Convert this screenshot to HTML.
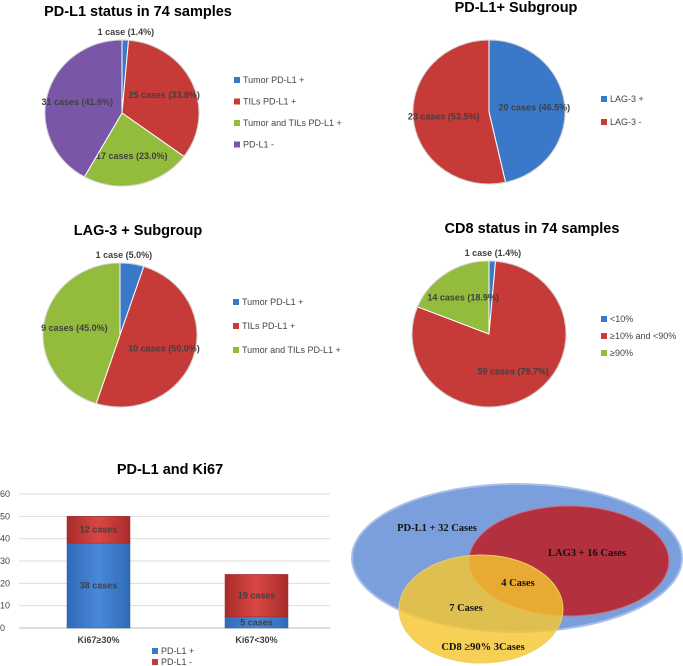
<!DOCTYPE html>
<html><head><meta charset="utf-8"><style>
html,body{margin:0;padding:0;background:#fff;}
svg{display:block;font-family:"Liberation Sans",sans-serif;}
.t{font-size:14.5px;font-weight:bold;fill:#000;text-anchor:middle;}
.l{font-size:9px;font-weight:bold;fill:#404040;text-anchor:middle;}
.lg{font-size:9px;fill:#444;}
.ax{font-size:9px;fill:#444;}
.v{font-family:"Liberation Serif",serif;font-weight:bold;font-size:10.5px;fill:#111;text-anchor:middle;}
</style></head><body>
<svg id="s" width="683" height="666" viewBox="0 0 683 666">
<defs>
<linearGradient id="gb" x1="0" x2="1"><stop offset="0" stop-color="#2f6bb8"/><stop offset="0.5" stop-color="#4a88d8"/><stop offset="1" stop-color="#2f6bb8"/></linearGradient>
<linearGradient id="gr" x1="0" x2="1"><stop offset="0" stop-color="#a82c2a"/><stop offset="0.5" stop-color="#d94744"/><stop offset="1" stop-color="#a82c2a"/></linearGradient>
</defs>
</svg>
<script>
const pie1Labels=["Tumor PD-L1 +","TILs PD-L1 +","Tumor and TILs PD-L1 +","PD-L1 -"];
const pie1Values=[1,25,17,31];
const pie1Text=["1 case (1.4%)","25 cases (33.8%)","17 cases (23.0%)","31 cases (41.9%)"];
const pie2Labels=["LAG-3 +","LAG-3 -"];
const pie2Values=[20,23];
const pie2Text=["20 cases (46.5%)","23 cases (53.5%)"];
const pie3Labels=["Tumor PD-L1 +","TILs PD-L1 +","Tumor and TILs PD-L1 +"];
const pie3Values=[1,10,9];
const pie3Text=["1 case (5.0%)","10 cases (50.0%)","9 cases (45.0%)"];
const pie4Labels=["<10%","\u226510% and <90%","\u226590%"];
const pie4Values=[1,59,14];
const pie4Text=["1 case (1.4%)","59 cases (79.7%)","14 cases (18.9%)"];
const barCategories=["Ki67\u226530%","Ki67<30%"];
const barPos=[38,5];
const barNeg=[12,19];
const barPosText=["38 cases","5 cases"];
const barNegText=["12 cases","19 cases"];
const yTicks=[0,10,20,30,40,50,60];

const NS="http://www.w3.org/2000/svg";
const svg=document.getElementById("s");
function mk(tag,attrs,parent){const e=document.createElementNS(NS,tag);for(const k in attrs)e.setAttribute(k,attrs[k]);(parent||svg).appendChild(e);return e;}
function txt(x,y,s,cls,parent){const e=mk("text",{x:x,y:y,class:cls},parent);e.textContent=s;return e;}
const colors=["#3a78c9","#c63a37","#93bb3c","#7a56a8"];
const dark=["#2a5a9a","#962a28","#6f8f2a","#5a3e80"];

function pie(name,title,tx,ty,cx,cy,rx,ry,vals,texts,labels,cols,lx,ly,lgap){
  const g=mk("g",{});
  
  
  const t=txt(tx,ty,title,"t",g);
  
  
  const tot=vals.reduce((a,b)=>a+b,0);
  let a0=0;
  vals.forEach((v,i)=>{
    const a1=a0+v/tot*2*Math.PI;
    const x0=cx+rx*Math.sin(a0),y0=cy-ry*Math.cos(a0),x1=cx+rx*Math.sin(a1),y1=cy-ry*Math.cos(a1);
    const large=(a1-a0)>Math.PI?1:0;
    const p=mk("path",{d:`M${cx},${cy}L${x0},${y0}A${rx},${ry} 0 ${large} 1 ${x1},${y1}Z`,fill:cols[i],stroke:"#fff","stroke-width":1},g);
    
    
    const am=(a0+a1)/2;
    let lxp,lyp;
    if(v/tot<0.06){lxp=cx+rx*0.05;lyp=cy-ry-5;}
    else{lxp=cx+rx*0.6*Math.sin(am);lyp=cy-ry*0.6*Math.cos(am)+3;}
    const lt=txt(lxp,lyp,texts[i],"l",g);
    
    
    a0=a1;
  });
  mk("ellipse",{cx:cx,cy:cy,rx:rx,ry:ry,fill:"none",stroke:"#777","stroke-opacity":0.35,"stroke-width":1},g);
  labels.forEach((s,i)=>{
    const y=ly+i*lgap;
    const r=mk("rect",{x:lx,y:y-6,width:6,height:6,fill:cols[i]},g);
    
    
    const e=txt(lx+9,y,s,"lg",g);
    
    
  });
}
pie("pdl1-status-pie","PD-L1 status in 74 samples",138,16,122,113,77,73,pie1Values,pie1Text,pie1Labels,colors,234,83,21.5);
pie("pdl1-subgroup-pie","PD-L1+ Subgroup",516,12,489,112,76,72,pie2Values,pie2Text,pie2Labels,colors.slice(0,2),601,102,23);
pie("lag3-subgroup-pie","LAG-3 + Subgroup",138,235,120,335,77,72,pie3Values,pie3Text,pie3Labels,colors,233,305,24);
pie("cd8-status-pie","CD8 status in 74 samples",532,233,489,334,77,73,pie4Values,pie4Text,pie4Labels,[colors[0],colors[1],colors[2]],601,322,17);

// bar chart
const bg=mk("g",{});


const bt=txt(170,474,"PD-L1 and Ki67","t",bg);


const y0px=628,y60px=494;
function ys(v){return y0px-(v/60)*(y0px-y60px);}
yTicks.forEach(v=>{
  const ln=mk("line",{x1:19,x2:330,y1:ys(v),y2:ys(v),stroke:v===0?"#bbb":"#ddd","stroke-width":1},bg);
  
  
  const tl=txt(0,ys(v)+3,String(v),"ax",bg);
  
  
});
const barX=[67,225],bw=63;
barCategories.forEach((c,i)=>{
  const x=barX[i];
  const r1=mk("rect",{x:x,y:ys(barPos[i]),width:bw,height:ys(0)-ys(barPos[i]),fill:"url(#gb)",stroke:"#2a5a9a","stroke-width":0.5},bg);
  
  
  const top=barPos[i]+barNeg[i];
  const r2=mk("rect",{x:x,y:ys(top),width:bw,height:ys(barPos[i])-ys(top),fill:"url(#gr)",stroke:"#962a28","stroke-width":0.5},bg);
  
  
  const t1=txt(x+bw/2,(ys(barPos[i])+ys(0))/2+3,barPosText[i],"l",bg);
  
  
  const t2=txt(x+bw/2,(ys(top)+ys(barPos[i]))/2+3,barNegText[i],"l",bg);
  
  
  const cl=txt(x+bw/2,643,c,"l",bg);
  
  
});
["PD-L1 +","PD-L1 -"].forEach((s,i)=>{
  const y=654+i*11;
  const r=mk("rect",{x:152,y:y-6,width:6,height:6,fill:colors[i]},bg);
  
  
  const e=txt(161,y,s,"lg",bg);
  
  
});

// venn
const vg=mk("g",{});


const e1=mk("ellipse",{cx:517,cy:558,rx:165,ry:74,fill:"#7b9fdc",stroke:"#a9c0ea","stroke-width":2},vg);


const e2=mk("ellipse",{cx:569,cy:561,rx:100,ry:55,fill:"#b3303f",stroke:"#c8707a","stroke-width":1},vg);


const e3=mk("ellipse",{cx:481,cy:609,rx:82,ry:54,fill:"#f5c631","fill-opacity":0.82,stroke:"#e8d060","stroke-width":1},vg);


[["PD-L1 +   32 Cases",437,531],["LAG3  + 16 Cases",587,556],["4 Cases",518,586],["7 Cases",466,611],["CD8  \u226590%  3Cases",483,650]].forEach((d,i)=>{
  const t=txt(d[1],d[2],d[0],"v",vg);
  
  
});
</script>
</body></html>
